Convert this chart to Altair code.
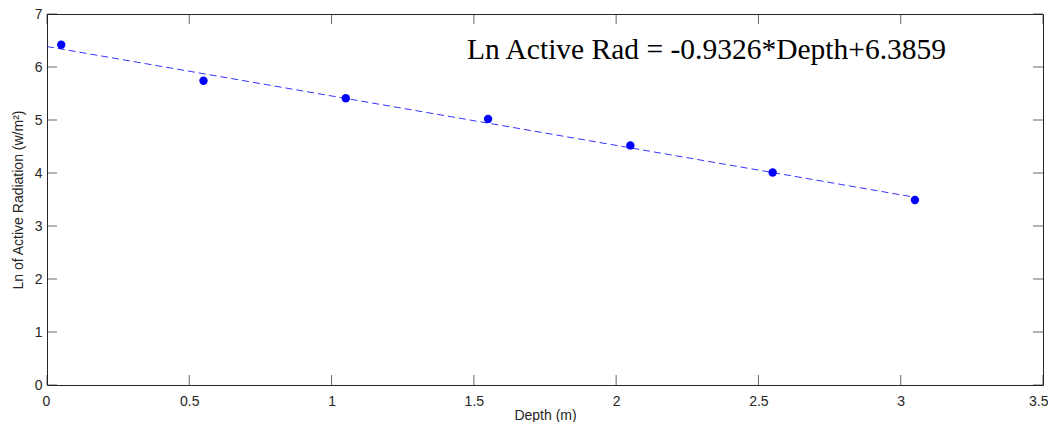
import altair as alt
import pandas as pd

# Data
depth = [0.05, 0.55, 1.05, 1.55, 2.05, 2.55, 3.05]
ln_rad = [6.42, 5.74, 5.41, 5.02, 4.52, 4.01, 3.49]

fit_x = [0.0, 3.05]
fit_y = [6.386, 3.542]

x_ticks = [0, 0.5, 1, 1.5, 2, 2.5, 3, 3.5]
y_ticks = [0, 1, 2, 3, 4, 5, 6, 7]

eq_text = ["Ln Active Rad = -0.9326*Depth+6.3859"]
eq_x = [1.476]
eq_y = [6.15]

W, H = 996, 371
AX = "#262626"

pts = pd.DataFrame({"x": depth, "y": ln_rad})
fit = pd.DataFrame({"x": fit_x, "y": fit_y})
xt = pd.DataFrame({"x": x_ticks})
yt = pd.DataFrame({"y": y_ticks})
ann = pd.DataFrame({"x": eq_x, "y": eq_y, "t": eq_text})

xs = alt.Scale(domain=[0, 3.5], nice=False, zero=False)
ys = alt.Scale(domain=[0, 7], nice=False, zero=False)

xaxis = alt.Axis(values=x_ticks, grid=False, domain=False, ticks=False,
                 labelPadding=9, title="Depth (m)", titlePadding=0,
                 labelFlush=True, labelFlushOffset=5, format="~g")
yaxis = alt.Axis(values=y_ticks, grid=False, domain=False, ticks=False,
                 labelPadding=5, title="Ln of Active Radiation (w/m²)",
                 titlePadding=9, labelFlush=False, format="~g")

line = alt.Chart(fit).mark_line(color="#0000ff", strokeWidth=0.8,
                                strokeDash=[7, 4]).encode(
    x=alt.X("x:Q", scale=xs, axis=xaxis),
    y=alt.Y("y:Q", scale=ys, axis=yaxis),
)

points = alt.Chart(pts).mark_circle(color="#0000ff", size=70, opacity=1).encode(
    x=alt.X("x:Q", scale=xs),
    y=alt.Y("y:Q", scale=ys),
)

tick_b = alt.Chart(xt).mark_tick(color=AX, size=10, thickness=1, orient="vertical").encode(
    x=alt.X("x:Q", scale=xs), y=alt.value(H - 5))
tick_t = alt.Chart(xt).mark_tick(color=AX, size=10, thickness=1, orient="vertical").encode(
    x=alt.X("x:Q", scale=xs), y=alt.value(5))
tick_l = alt.Chart(yt).mark_tick(color=AX, size=10, thickness=1, orient="horizontal").encode(
    y=alt.Y("y:Q", scale=ys), x=alt.value(5))
tick_r = alt.Chart(yt).mark_tick(color=AX, size=10, thickness=1, orient="horizontal").encode(
    y=alt.Y("y:Q", scale=ys), x=alt.value(W - 5))

text = alt.Chart(ann).mark_text(font="Liberation Serif", fontSize=29.5, color="black",
                                align="left", baseline="alphabetic").encode(
    x=alt.X("x:Q", scale=xs), y=alt.Y("y:Q", scale=ys), text="t:N")

chart = alt.layer(tick_b, tick_t, tick_l, tick_r, line, points, text).properties(
    width=W, height=H,
    autosize=alt.AutoSizeParams(type="none"),
    padding={"left": 39, "top": 6, "right": 5, "bottom": 37},
    background="white",
).configure_view(stroke=AX, strokeWidth=1).configure_axis(
    labelFont="Liberation Sans", labelFontSize=14, labelColor=AX,
    titleFont="Liberation Sans", titleFontSize=14, titleColor=AX,
    titleFontWeight="normal",
)

chart.save("out.html", embed_options={"renderer": "svg", "actions": False})
